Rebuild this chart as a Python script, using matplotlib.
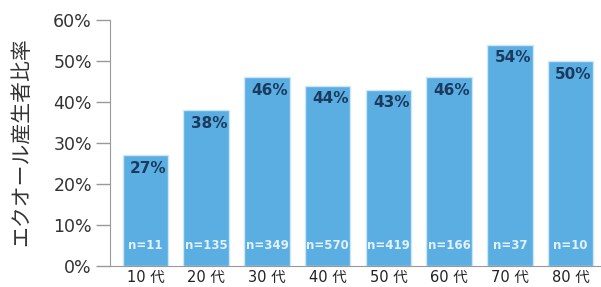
import matplotlib
matplotlib.use("Agg")
import matplotlib.pyplot as plt

plt.rcParams['font.family'] = ['DejaVu Sans', 'Noto Sans CJK JP']

categories = ["10 代", "20 代", "30 代", "40 代", "50 代", "60 代", "70 代", "80 代"]
values = [27, 38, 46, 44, 43, 46, 54, 50]
n_labels = ["n=11", "n=135", "n=349", "n=570", "n=419", "n=166", "n=37", "n=10"]
yticks = [0, 10, 20, 30, 40, 50, 60]
ylabel = "エクオール産生者比率"

fig = plt.figure(figsize=(6.01, 2.87), dpi=100)
ax = fig.add_axes([0.183, 0.073, 0.817, 0.857])

x = list(range(len(categories)))
ax.bar(x, values, width=0.75, color="#5aaee2", edgecolor="#cfe6f6", linewidth=1.0)

for xi, v, n in zip(x, values, n_labels):
    ax.annotate(f"{v}%", (xi, v), xytext=(2, -4), textcoords="offset points",
                ha="center", va="top", fontsize=11, fontweight="bold", color="#1c3a5e")
    ax.annotate(n, (xi, 0), xytext=(0, 15), textcoords="offset points",
                ha="center", va="center", fontsize=8.5, fontweight="bold", color="#e3f1fb")

ax.set_xlim(-0.585, 7.5)
ax.set_ylim(0, 60)
ax.set_yticks(yticks)
ax.set_yticklabels([f"{t}%" for t in yticks], fontsize=12.5, color="#333333")
ax.set_xticks(x)
ax.set_xticklabels(categories, fontsize=10.5, color="#222222",
                   family=['DejaVu Sans', 'Noto Sans CJK JP'])
ax.tick_params(axis='y', length=10, color="#999999", width=1, pad=3)
ax.tick_params(axis='x', length=0, pad=3)

for s in ["top", "right"]:
    ax.spines[s].set_visible(False)
ax.spines["left"].set_color("#999999")
ax.spines["bottom"].set_color("#999999")

fig.text(0.035, 0.505, ylabel, rotation=90, ha="center", va="center",
         fontsize=15, color="#333333", family=['Noto Sans CJK JP', 'DejaVu Sans'])

fig.savefig("out.png", dpi=100)
